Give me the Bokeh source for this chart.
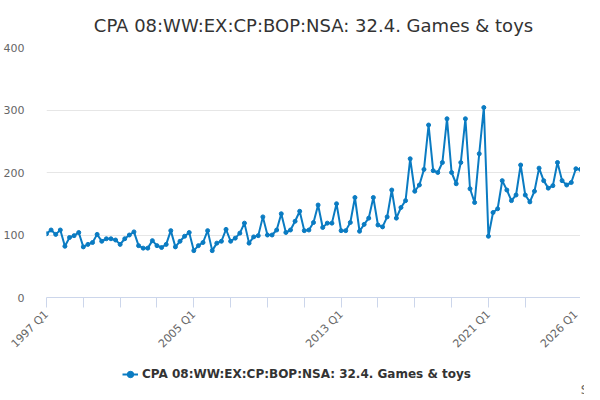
from math import pi

from bokeh.embed import file_html
from bokeh.layouts import column
from bokeh.models import ColumnDataSource, FixedTicker, Label, Legend, LegendItem, Range1d
from bokeh.plotting import figure
from bokeh.resources import INLINE

series_name = "CPA 08:WW:EX:CP:BOP:NSA: 32.4. Games & toys"
first_year = 1997

# quarterly values, 1997 Q1 .. 2026 Q1
values = [
    102, 108, 101, 108, 82, 96, 99, 104, 81, 85, 88, 101,
    90, 94, 94, 92, 85, 94, 100, 105, 83, 79, 79, 91,
    83, 80, 85, 107, 81, 90, 98, 104, 75, 83, 88, 107,
    75, 87, 90, 109, 90, 95, 103, 119, 87, 97, 99, 129,
    100, 100, 108, 134, 104, 108, 122, 138, 107, 108, 120, 148,
    112, 119, 119, 150, 107, 107, 120, 160, 106, 117, 127, 160,
    116, 113, 129, 172, 127, 144, 155, 222, 170, 180, 205, 276,
    203, 200, 216, 286, 200, 182, 216, 286, 174, 152, 230, 304,
    98, 136, 142, 187, 172, 155, 164, 212, 164, 153, 170, 207,
    187, 175, 179, 216, 187, 180, 184, 206, 205,
]
quarters = [f"{first_year + i // 4} Q{i % 4 + 1}" for i in range(len(values))]

tick_positions = [0, 8, 16, 24, 32, 40, 48, 56, 64, 72, 80, 88, 96, 104, 116]
tick_labels = {0: "1997 Q1", 32: "2005 Q1", 64: "2013 Q1", 96: "2021 Q1", 116: "2026 Q1"}
y_ticks = [0, 100, 200, 300, 400]

blue = "#0a7bc2"
font = "DejaVu Sans"

source = ColumnDataSource(data=dict(x=list(range(len(values))), y=values, q=quarters))

p = figure(
    frame_width=534, frame_height=250,
    x_range=Range1d(0, len(values) - 1), y_range=Range1d(0, 400),
    output_backend="svg", toolbar_location=None,
    min_border=0,
)
p.outline_line_color = None

p.title.text = series_name
p.title.align = "center"
p.title.text_font = font
p.title.text_font_size = "18px"
p.title.text_font_style = "normal"
p.title.text_color = "#333333"
p.title.standoff = 24

line = p.line("x", "y", source=source, line_color=blue, line_width=2)
dots = p.scatter("x", "y", source=source, size=4, color=blue)

p.xgrid.grid_line_color = None
p.ygrid.grid_line_color = "#e6e6e6"

p.yaxis.ticker = FixedTicker(ticks=y_ticks)
p.yaxis.axis_line_color = None
p.yaxis.major_tick_line_color = None
p.yaxis.minor_tick_line_color = None
p.yaxis.major_label_standoff = 16
p.yaxis.major_label_text_font = font
p.yaxis.major_label_text_font_size = "11px"
p.yaxis.major_label_text_color = "#666666"

p.xaxis.ticker = FixedTicker(ticks=tick_positions, minor_ticks=[])
p.xaxis.major_label_overrides = {t: tick_labels.get(t, "") for t in tick_positions}
p.xaxis.major_label_orientation = pi / 4
p.xaxis.axis_line_color = "#ccd6eb"
p.xaxis.major_tick_line_color = "#ccd6eb"
p.xaxis.major_tick_out = 10
p.xaxis.major_tick_in = 0
p.xaxis.major_label_standoff = 5
p.xaxis.major_label_text_font = font
p.xaxis.major_label_text_font_size = "11px"
p.xaxis.major_label_text_color = "#666666"

# strip under the chart holding the legend and the source note
foot = figure(
    frame_width=584, frame_height=38,
    x_range=Range1d(0, 1), y_range=Range1d(0, 1),
    x_axis_location=None, y_axis_location=None,
    output_backend="svg", toolbar_location=None, min_border=0,
)
foot.outline_line_color = None
foot.grid.visible = False
# same series, outside this strip's ranges: only used for the legend key
key_line = foot.line("x", "y", source=source, line_color=blue, line_width=2)
key_dot = foot.scatter("x", "y", source=source, size=4, color=blue)

legend = Legend(
    items=[LegendItem(label=series_name, renderers=[key_line, key_dot])],
    orientation="horizontal", location=(122, 12),
    label_text_font=font, label_text_font_size="12px",
    label_text_font_style="bold", label_text_color="#333333",
    border_line_color=None, background_fill_alpha=0,
    glyph_width=16, label_standoff=4, margin=0, padding=0,
)
foot.add_layout(legend)

# note placed in the strip's own 0..1 data space
foot.add_layout(Label(x=0.915, y=0.16, text="Source:",
                      text_align="left", text_baseline="middle", text_font=font,
                      text_font_size="12px", text_color="#666666"))

open("out.html", "w").write(file_html(column(p, foot, spacing=0), INLINE))
